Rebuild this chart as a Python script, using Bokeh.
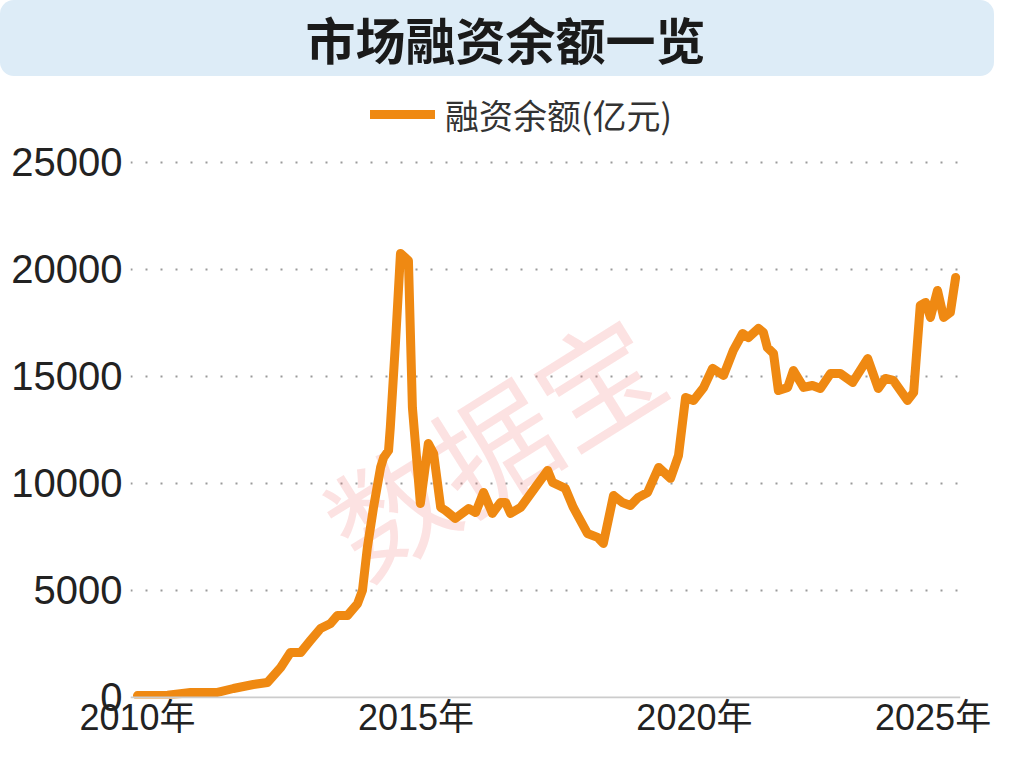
from bokeh.plotting import figure
from bokeh.models import Range1d, FixedTicker, Span, Label, Legend, LegendItem
from bokeh.layouts import column
from bokeh.embed import file_html
from bokeh.resources import INLINE

# ---------------- data ----------------
title_text = "市场融资余额一览"
series_name = "融资余额(亿元)"
watermark_text = "数据宝"

# months elapsed since March 2010
month_idx = [0, 6.8, 12.0, 18.1, 21.7, 26.2, 29.4, 32.4, 34.6, 36.9, 39.1, 41.4, 43.7, 45.2,
             47.5, 49.8, 50.9, 52.0, 53.4, 55.0, 55.7, 56.8, 57.2, 58.4, 59.5, 61.3, 62.2,
             64.0, 65.8, 67.0, 68.6, 69.7, 71.9, 74.9, 76.5, 78.3, 80.3, 82.1, 83.3, 84.4,
             86.7, 92.8, 93.9, 96.8, 98.6, 101.8, 104.1, 105.4, 107.7, 109.7, 111.5, 113.3,
             115.4, 117.9, 120.6, 122.4, 124.0, 125.8, 128.1, 130.1, 132.6, 134.8, 136.9,
             138.2, 140.5, 141.6, 142.5, 143.9, 145.0, 147.1, 148.4, 150.7, 152.7, 154.5,
             156.8, 159.0, 161.8, 165.2, 167.6, 169.2, 171.0, 174.2, 175.6, 177.1, 178.3,
             179.4, 181.0, 182.4, 183.9, 185.1]
# financing balance, 100 million yuan
balance = [90, 110, 234, 234, 420, 607, 700, 1400, 2100, 2100, 2660, 3220, 3460, 3830,
           3830, 4390, 5000, 7000, 8880, 10750, 11215, 11540, 12620, 16680, 20750, 20420, 13550,
           9065, 11870, 11400, 8880, 8740, 8365, 8830, 8645, 9580, 8600, 9110, 9110, 8600,
           8880, 10610, 10050, 9770, 8880, 7665, 7480, 7200, 9440, 9110, 8970, 9350,
           9580, 10750, 10240, 11310, 14020, 13880, 14490, 15380, 15050, 16220, 17010,
           16820, 17250, 17060, 16350, 16070, 14340, 14490, 15280, 14490, 14580, 14440,
           15140, 15140, 14720, 15840, 14440, 14910, 14815, 13880, 14250, 18320, 18460,
           17760, 19020, 17760, 17990, 19630]

x_ticks = [0, 63, 126, 180]
x_tick_labels = ["2010年", "2015年", "2020年", "2025年"]
y_ticks = [0, 5000, 10000, 15000, 20000, 25000]

CJK = "Noto Sans CJK SC"
NUM = "Liberation Sans, Noto Sans CJK SC"
ORANGE = "#EF8912"
BAR_BLUE = "#DDECF7"

W = 994
LEFT, RIGHT = 130, 34

# ---------------- title bar ----------------
t = figure(width=W, height=76, output_backend="svg", toolbar_location=None,
           x_range=Range1d(LEFT, W - RIGHT), y_range=Range1d(0, 76),
           x_axis_location=None, y_axis_location=None,
           min_border_left=LEFT, min_border_right=RIGHT, min_border_top=0,
           min_border_bottom=0)
t.grid.visible = False
t.outline_line_color = None
t.background_fill_color = None
t.border_fill_color = None
t.styles = {"background-color": BAR_BLUE, "border-radius": "14px"}
t.add_layout(Label(x=505, y=39, text=title_text, text_align="center",
                   text_baseline="middle", text_font=CJK, text_font_style="bold",
                   text_font_size="50px", text_color="#1a1a1a"))

# ---------------- main chart ----------------
p = figure(width=W, height=666, output_backend="svg", toolbar_location=None,
           x_range=Range1d(-1.58, 186.2), y_range=Range1d(-47, 28364),
           min_border_left=LEFT, min_border_right=RIGHT, min_border_top=14,
           min_border_bottom=44)
p.outline_line_color = None
p.background_fill_color = "white"
p.border_fill_color = "white"

# watermark
p.add_layout(Label(x=80, y=12000, text=watermark_text, angle=32, angle_units="deg",
                   text_align="center", text_baseline="middle", text_font=CJK,
                   text_font_size="122px", text_color="#EE7070", text_alpha=0.2,
                   level="underlay"))

p.xgrid.visible = False
p.ygrid.ticker = FixedTicker(ticks=y_ticks[1:])
p.ygrid.grid_line_color = "#9a9a9a"
p.ygrid.grid_line_width = 2
p.ygrid.grid_line_dash = "2 13"

p.add_layout(Span(location=0, dimension="width", line_color="#cccccc", line_width=2))

r = p.line(month_idx, balance, line_width=9, line_color=ORANGE,
           line_join="round", line_cap="round")

# axes
p.xaxis.ticker = FixedTicker(ticks=x_ticks)
p.xaxis.major_label_overrides = {k: v for k, v in zip(x_ticks, x_tick_labels)}
p.yaxis.ticker = FixedTicker(ticks=y_ticks)
for ax in (p.xaxis, p.yaxis):
    ax.axis_line_color = None
    ax.major_tick_line_color = None
    ax.minor_tick_line_color = None
    ax.major_label_text_font = NUM
    ax.major_label_text_color = "#222222"
p.xaxis.major_label_text_font_size = "36px"
p.xaxis.major_label_standoff = -8
p.yaxis.major_label_text_font_size = "40px"
p.yaxis.major_label_standoff = 2

legend = Legend(items=[LegendItem(label=series_name, renderers=[r])],
                location=(240, 559), orientation="horizontal",
                border_line_color=None, background_fill_alpha=0,
                padding=0, margin=0, glyph_width=65, glyph_height=50,
                label_height=50, label_standoff=10,
                label_text_font=CJK, label_text_font_size="34px",
                label_text_color="#333333")
p.add_layout(legend)

layout = column(t, p, spacing=0)
open("out.html", "w").write(file_html(layout, INLINE))
